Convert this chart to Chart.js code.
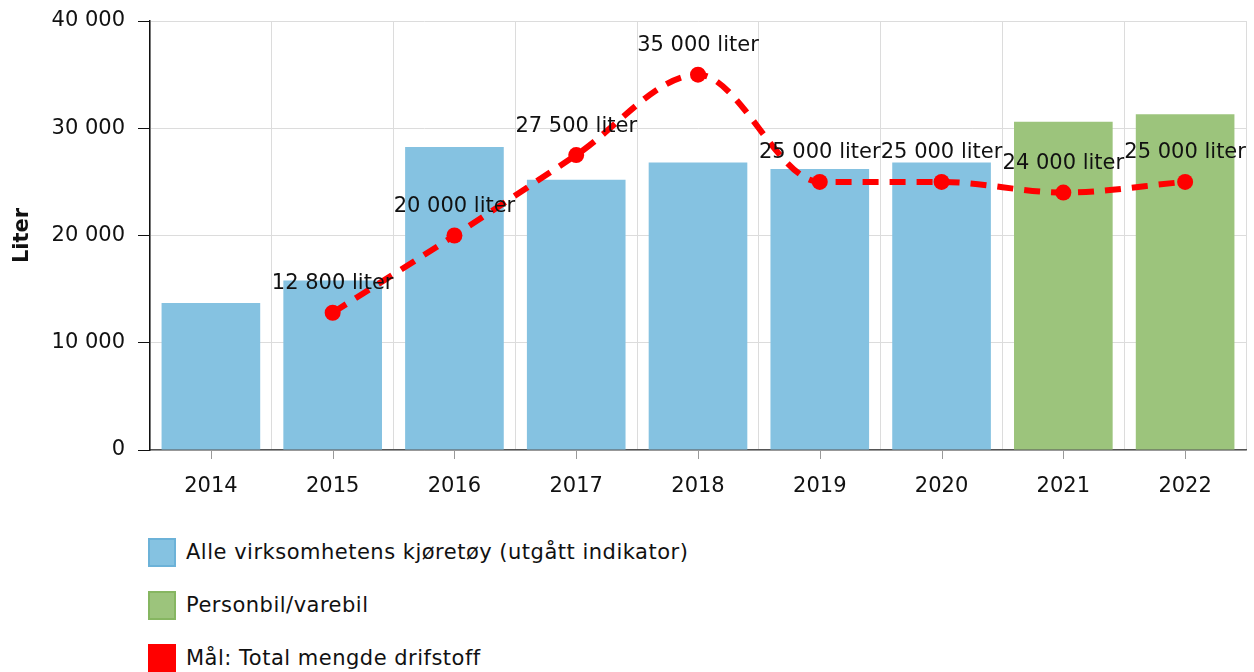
<!DOCTYPE html>
<html>
<head>
<meta charset="utf-8">
<script src="https://cdn.jsdelivr.net/npm/chart.js@4"></script>
<style>
  body { margin: 0; background: #fff; font-family: "DejaVu Sans", sans-serif; }
  #wrap { position: relative; width: 1254px; height: 672px; }
  #box { position: absolute; left: 0; top: 0; width: 1254px; height: 510px; }
  #legend { position: absolute; left: 148px; top: 537px; }
  .item { display: flex; align-items: center; height: 30px; margin-bottom: 23px; font-size: 21px; letter-spacing: 0.5px; color: #111; }
  .sw { width: 28px; height: 29px; box-sizing: border-box; border: 2px solid; margin-right: 10px; }
</style>
</head>
<body>
<div id="wrap">
  <div id="box"><canvas id="myChart"></canvas></div>
  <div id="legend"></div>
</div>
<script>
const years = ['2014', '2015', '2016', '2017', '2018', '2019', '2020', '2021', '2022'];
const alleKjoretoy = [13700, 15800, 28250, 25200, 26800, 26200, 26800, null, null];
const personbil = [null, null, null, null, null, null, null, 30600, 31300];
const maal = [null, 12800, 20000, 27500, 35000, 25000, 25000, 24000, 25000];
const yTicks = [0, 10000, 20000, 30000, 40000];

const fmt = v => String(v).replace(/\B(?=(\d{3})+(?!\d))/g, ' ');

// etiketter over punktene på mål-linjen
const pointLabels = {
  id: 'pointLabels',
  afterDatasetsDraw(chart) {
    const ctx = chart.ctx;
    const meta = chart.getDatasetMeta(2);
    ctx.save();
    ctx.font = '21px "DejaVu Sans"';
    ctx.fillStyle = '#111';
    ctx.textAlign = 'center';
    ctx.textBaseline = 'middle';
    meta.data.forEach((pt, i) => {
      if (maal[i] == null) return;
      ctx.fillText(fmt(maal[i]) + ' liter', pt.x, pt.y - 29);
    });
    ctx.restore();
  }
};

// tick-streker midt under hver kategori
const xTickMarks = {
  id: 'xTickMarks',
  afterDraw(chart) {
    const x = chart.scales.x, ctx = chart.ctx;
    ctx.save();
    ctx.strokeStyle = '#999';
    ctx.lineWidth = 1;
    years.forEach((y, i) => {
      const px = Math.round(x.getPixelForTick(i)) + 0.5;
      ctx.beginPath();
      ctx.moveTo(px, x.top);
      ctx.lineTo(px, x.top + 9);
      ctx.stroke();
    });
    ctx.restore();
  }
};

Chart.defaults.font.family = '"DejaVu Sans", sans-serif';
Chart.defaults.font.size = 21;
Chart.defaults.color = '#111';

const chart = new Chart(document.getElementById('myChart'), {
  data: {
    labels: years,
    datasets: [
      {
        type: 'bar',
        label: 'Alle virksomhetens kjøretøy (utgått indikator)',
        data: alleKjoretoy,
        backgroundColor: '#85c2e1',
        legendBorder: '#6cb2d8',
        categoryPercentage: 0.81,
        barPercentage: 1,
        skipNull: true,
        order: 2
      },
      {
        type: 'bar',
        label: 'Personbil/varebil',
        data: personbil,
        backgroundColor: '#9cc47c',
        legendBorder: '#86b661',
        categoryPercentage: 0.81,
        barPercentage: 1,
        skipNull: true,
        order: 2
      },
      {
        type: 'line',
        label: 'Mål: Total mengde drifstoff',
        data: maal,
        borderColor: '#ff0000',
        backgroundColor: '#ff0000',
        legendBorder: '#ff0000',
        borderWidth: 6,
        borderDash: [16, 11],
        cubicInterpolationMode: 'monotone',
        pointRadius: 8,
        pointBackgroundColor: '#ff0000',
        pointBorderWidth: 0,
        spanGaps: true,
        order: 0
      }
    ]
  },
  options: {
    responsive: true,
    maintainAspectRatio: false,
    animation: false,
    layout: { padding: { top: 21, right: 4, left: 0, bottom: 0 } },
    plugins: {
      legend: { display: false },
      tooltip: { enabled: false }
    },
    scales: {
      x: {
        grid: { offset: true, color: '#dcdcdc', drawTicks: false },
        border: { color: '#555', width: 1.5 },
        ticks: { padding: 24, maxRotation: 0 },
        afterFit(s) { s.height = 60; }
      },
      y: {
        min: 0,
        max: 40000,
        afterBuildTicks(s) { s.ticks = yTicks.map(v => ({ value: v })); },
        grid: { color: '#dcdcdc', tickLength: 12, tickColor: '#111' },
        border: { color: '#111', width: 1.5 },
        ticks: { padding: 13, callback: v => fmt(v) },
        title: { display: true, text: 'Liter', font: { weight: 'bold', size: 21 }, padding: { top: 10, bottom: 8 } },
        afterFit(s) { s.width = 150; s.paddingTop = 0; s.paddingBottom = 0; }
      }
    }
  },
  plugins: [pointLabels, xTickMarks]
});

// egen legende, en rad per serie
const legend = document.getElementById('legend');
chart.data.datasets.forEach(ds => {
  const item = document.createElement('div');
  item.className = 'item';
  const sw = document.createElement('span');
  sw.className = 'sw';
  sw.style.background = ds.backgroundColor;
  sw.style.borderColor = ds.legendBorder;
  const txt = document.createElement('span');
  txt.textContent = ds.label;
  item.appendChild(sw);
  item.appendChild(txt);
  legend.appendChild(item);
});
</script>
</body>
</html>
